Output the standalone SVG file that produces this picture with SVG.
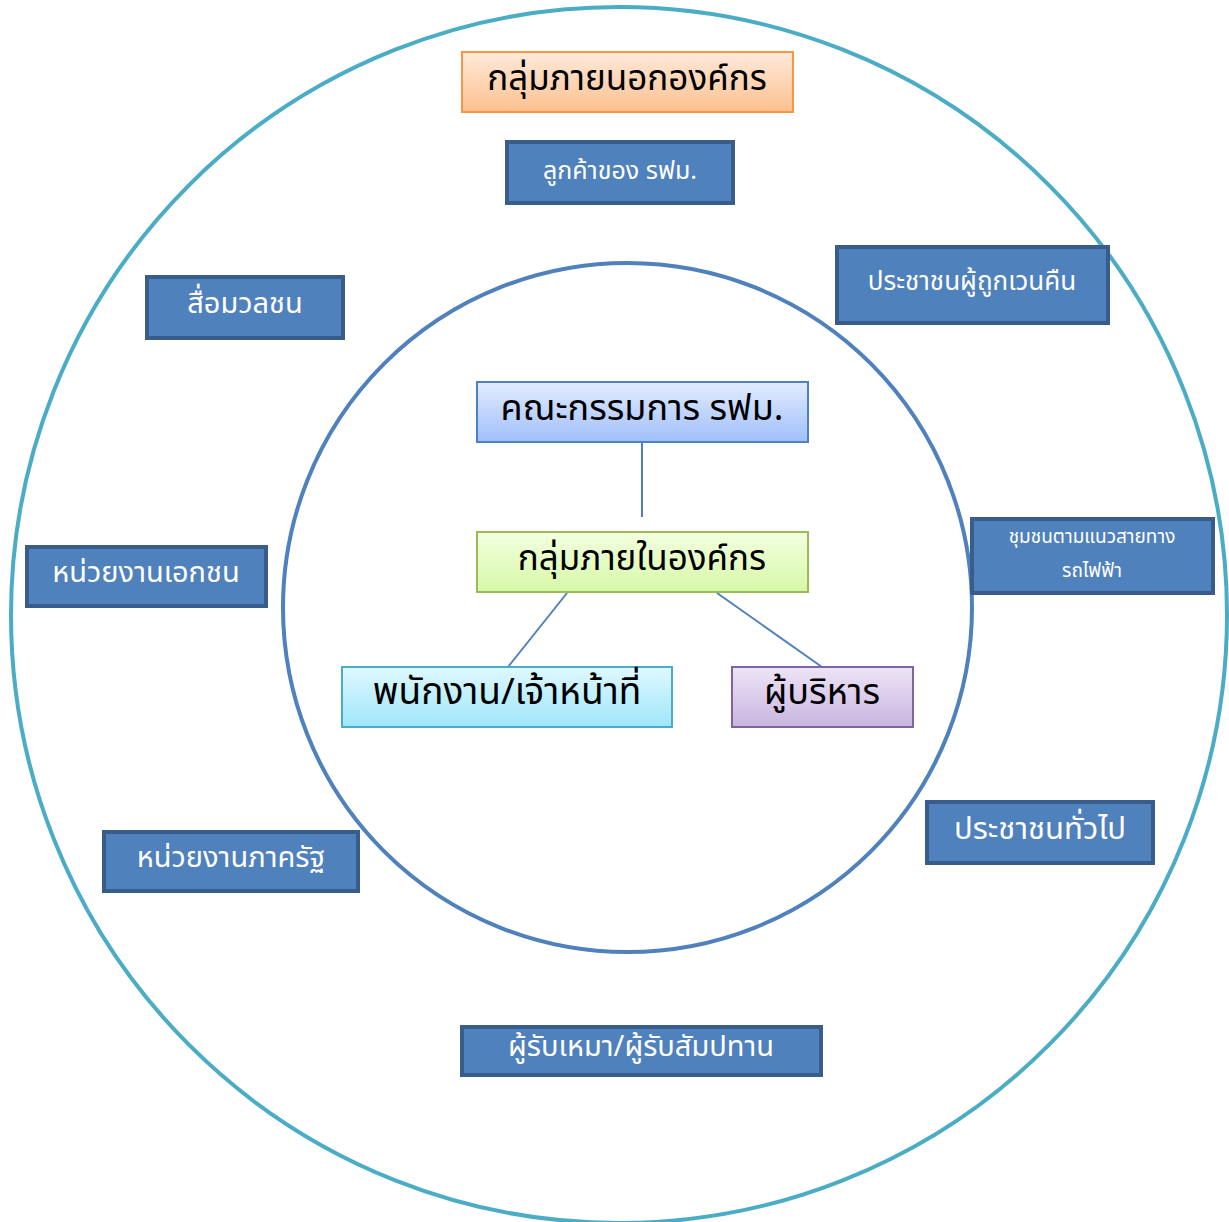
<svg xmlns="http://www.w3.org/2000/svg" width="1229" height="1222" viewBox="0 0 1229 1222">
<defs>
<linearGradient id="gOrange" x1="0" y1="0" x2="0" y2="1"><stop offset="0" stop-color="#FFEADB"/><stop offset="1" stop-color="#FBC08E"/></linearGradient>
<linearGradient id="gBlue" x1="0" y1="0" x2="0" y2="1"><stop offset="0" stop-color="#E2ECFF"/><stop offset="1" stop-color="#A0BFFB"/></linearGradient>
<linearGradient id="gGreen" x1="0" y1="0" x2="0" y2="1"><stop offset="0" stop-color="#F4FFE0"/><stop offset="1" stop-color="#D6F8A6"/></linearGradient>
<linearGradient id="gCyan" x1="0" y1="0" x2="0" y2="1"><stop offset="0" stop-color="#E0F8FF"/><stop offset="1" stop-color="#9EE6FA"/></linearGradient>
<linearGradient id="gPurple" x1="0" y1="0" x2="0" y2="1"><stop offset="0" stop-color="#EDE4F6"/><stop offset="1" stop-color="#C9B5E0"/></linearGradient>
</defs>
<style>
text{font-family:"Noto Sans Thai","Tlwg Typist","Loma","Garuda","DejaVu Sans","Liberation Sans",sans-serif;text-anchor:middle;dominant-baseline:central}
.ext rect{fill:#4F81BD;stroke:#385D8A;stroke-width:4}
.ext text{fill:#FFFFFF;font-size:29px}
.int text{fill:#000000;font-size:36px}
.conn line{stroke:#4F81BD;stroke-width:2}
</style>
<rect width="1229" height="1222" fill="#FFFFFF"/>
<circle cx="619" cy="615" r="608" fill="none" stroke="#4BACC6" stroke-width="4"/>
<circle cx="627.5" cy="607.5" r="344.5" fill="none" stroke="#4F81BD" stroke-width="4"/>
<g id="conns" class="conn">
<line x1="642" y1="442" x2="642" y2="517"/>
<line x1="567" y1="593" x2="508" y2="667"/>
<line x1="717" y1="593" x2="822" y2="667"/>
</g>
<g id="n-outer-title" class="int"><rect x="462" y="52" width="331" height="60" fill="url(#gOrange)" stroke="#F79646" stroke-width="2"/><text x="627" y="79" style="font-size:35px">กลุ่มภายนอกองค์กร</text></g>
<g id="n-board" class="int"><rect x="477" y="382" width="331" height="60" fill="url(#gBlue)" stroke="#4F81BD" stroke-width="2"/><text x="642" y="409">คณะกรรมการ รฟม.</text></g>
<g id="n-inner-title" class="int"><rect x="477" y="532" width="331" height="60" fill="url(#gGreen)" stroke="#9BBB59" stroke-width="2"/><text x="642" y="559" style="font-size:35px">กลุ่มภายในองค์กร</text></g>
<g id="n-staff" class="int"><rect x="342" y="667" width="330" height="60" fill="url(#gCyan)" stroke="#4BACC6" stroke-width="2"/><text x="507" y="693" style="font-size:37px">พนักงาน/เจ้าหน้าที่</text></g>
<g id="n-exec" class="int"><rect x="732" y="667" width="181" height="60" fill="url(#gPurple)" stroke="#8064A2" stroke-width="2"/><text x="822" y="693">ผู้บริหาร</text></g>
<g id="n-customers" class="ext"><rect x="507" y="142" width="226" height="61"/><text x="620" y="171" style="font-size:25px">ลูกค้าของ รฟม.</text></g>
<g id="n-media" class="ext"><rect x="147" y="277" width="196" height="61"/><text x="245" y="304">สื่อมวลชน</text></g>
<g id="n-expropriated" class="ext"><rect x="837" y="247" width="271" height="76"/><text x="972" y="282" style="font-size:26px">ประชาชนผู้ถูกเวนคืน</text></g>
<g id="n-community" class="ext"><rect x="972" y="519" width="241" height="74"/><text x="1092" y="537" style="font-size:19px">ชุมชนตามแนวสายทาง</text><text x="1092" y="571" style="font-size:19px">รถไฟฟ้า</text></g>
<g id="n-private" class="ext"><rect x="27" y="547" width="239" height="59"/><text x="146" y="573">หน่วยงานเอกชน</text></g>
<g id="n-government" class="ext"><rect x="104" y="832" width="254" height="59"/><text x="231" y="858">หน่วยงานภาครัฐ</text></g>
<g id="n-public" class="ext"><rect x="927" y="802" width="226" height="61"/><text x="1040" y="829" style="font-size:31px">ประชาชนทั่วไป</text></g>
<g id="n-contractors" class="ext"><rect x="462" y="1027" width="359" height="48"/><text x="641" y="1047">ผู้รับเหมา/ผู้รับสัมปทาน</text></g>
</svg>
